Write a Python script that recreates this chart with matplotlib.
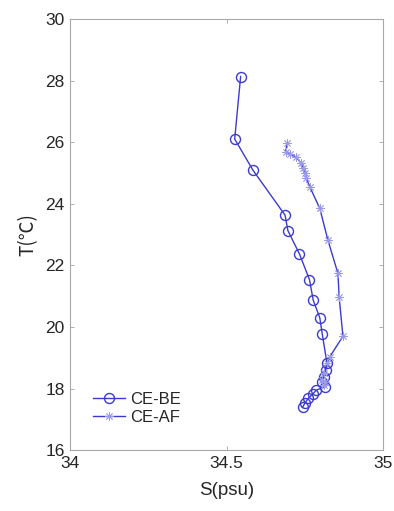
import matplotlib
matplotlib.use("Agg")
import matplotlib.pyplot as plt

# salinity / temperature profiles
s_be = [34.545, 34.526, 34.585, 34.687, 34.696, 34.733, 34.765, 34.777, 34.798,
        34.806, 34.821, 34.817, 34.812, 34.804, 34.815, 34.787, 34.777, 34.761,
        34.750, 34.743]
t_be = [28.13, 26.10, 25.08, 23.63, 23.13, 22.37, 21.54, 20.87, 20.30,
        19.77, 18.82, 18.60, 18.38, 18.22, 18.06, 17.95, 17.84, 17.68,
        17.52, 17.39]

s_af = [34.694, 34.689, 34.702, 34.723, 34.739, 34.745, 34.750, 34.755, 34.766,
        34.798, 34.824, 34.856, 34.860, 34.872, 34.830, 34.821, 34.810, 34.805,
        34.810, 34.815]
t_af = [25.96, 25.69, 25.62, 25.51, 25.31, 25.15, 24.99, 24.83, 24.55,
        23.85, 22.82, 21.74, 20.96, 19.70, 19.03, 18.82, 18.49, 18.28,
        18.11, 18.20]

xticks = [34, 34.5, 35]
yticks = [16, 18, 20, 22, 24, 26, 28, 30]

plt.rcParams['font.family'] = ['Liberation Sans', 'DejaVu Sans']

fig = plt.figure(figsize=(3.94, 5.11), dpi=100)
ax = fig.add_axes([0.178, 0.119, 0.794, 0.844])

blue = '#3b3bd0'
ax.plot(s_be, t_be, color=blue, lw=1.0, marker='o', ms=7.2, mfc='none',
        mec=blue, mew=1.0, label='CE-BE')
ax.plot(s_af, t_af, color=blue, lw=1.0, marker=(8, 2, 0), ms=6,
        mec='#9a9ae8', mew=0.6, label='CE-AF')

ax.set_xlim(34, 35)
ax.set_ylim(16, 30)
ax.set_xticks(xticks)
ax.set_xticklabels(['34', '34.5', '35'])
ax.set_yticks(yticks)

grey = '#262626'
ax.tick_params(direction='in', top=True, right=True, length=3, width=0.6,
               colors='#a0a0a0', labelcolor=grey, labelsize=12.5, pad=4)
for sp in ax.spines.values():
    sp.set_color('#a8a8a8')
    sp.set_linewidth(0.8)

ax.set_xlabel('S(psu)', fontsize=13.5, color=grey, labelpad=8)
ax.set_ylabel('T(℃)', fontsize=13.5, color=grey, labelpad=5,
              family=['Noto Sans CJK SC', 'DejaVu Sans'])

ax.legend(loc='lower left', frameon=False, fontsize=12, handlelength=1.9,
          handletextpad=0.3, labelspacing=0.2, borderaxespad=0.6,
          labelcolor=grey, bbox_to_anchor=(0.02, 0.02))

fig.savefig('out.png', dpi=100)
